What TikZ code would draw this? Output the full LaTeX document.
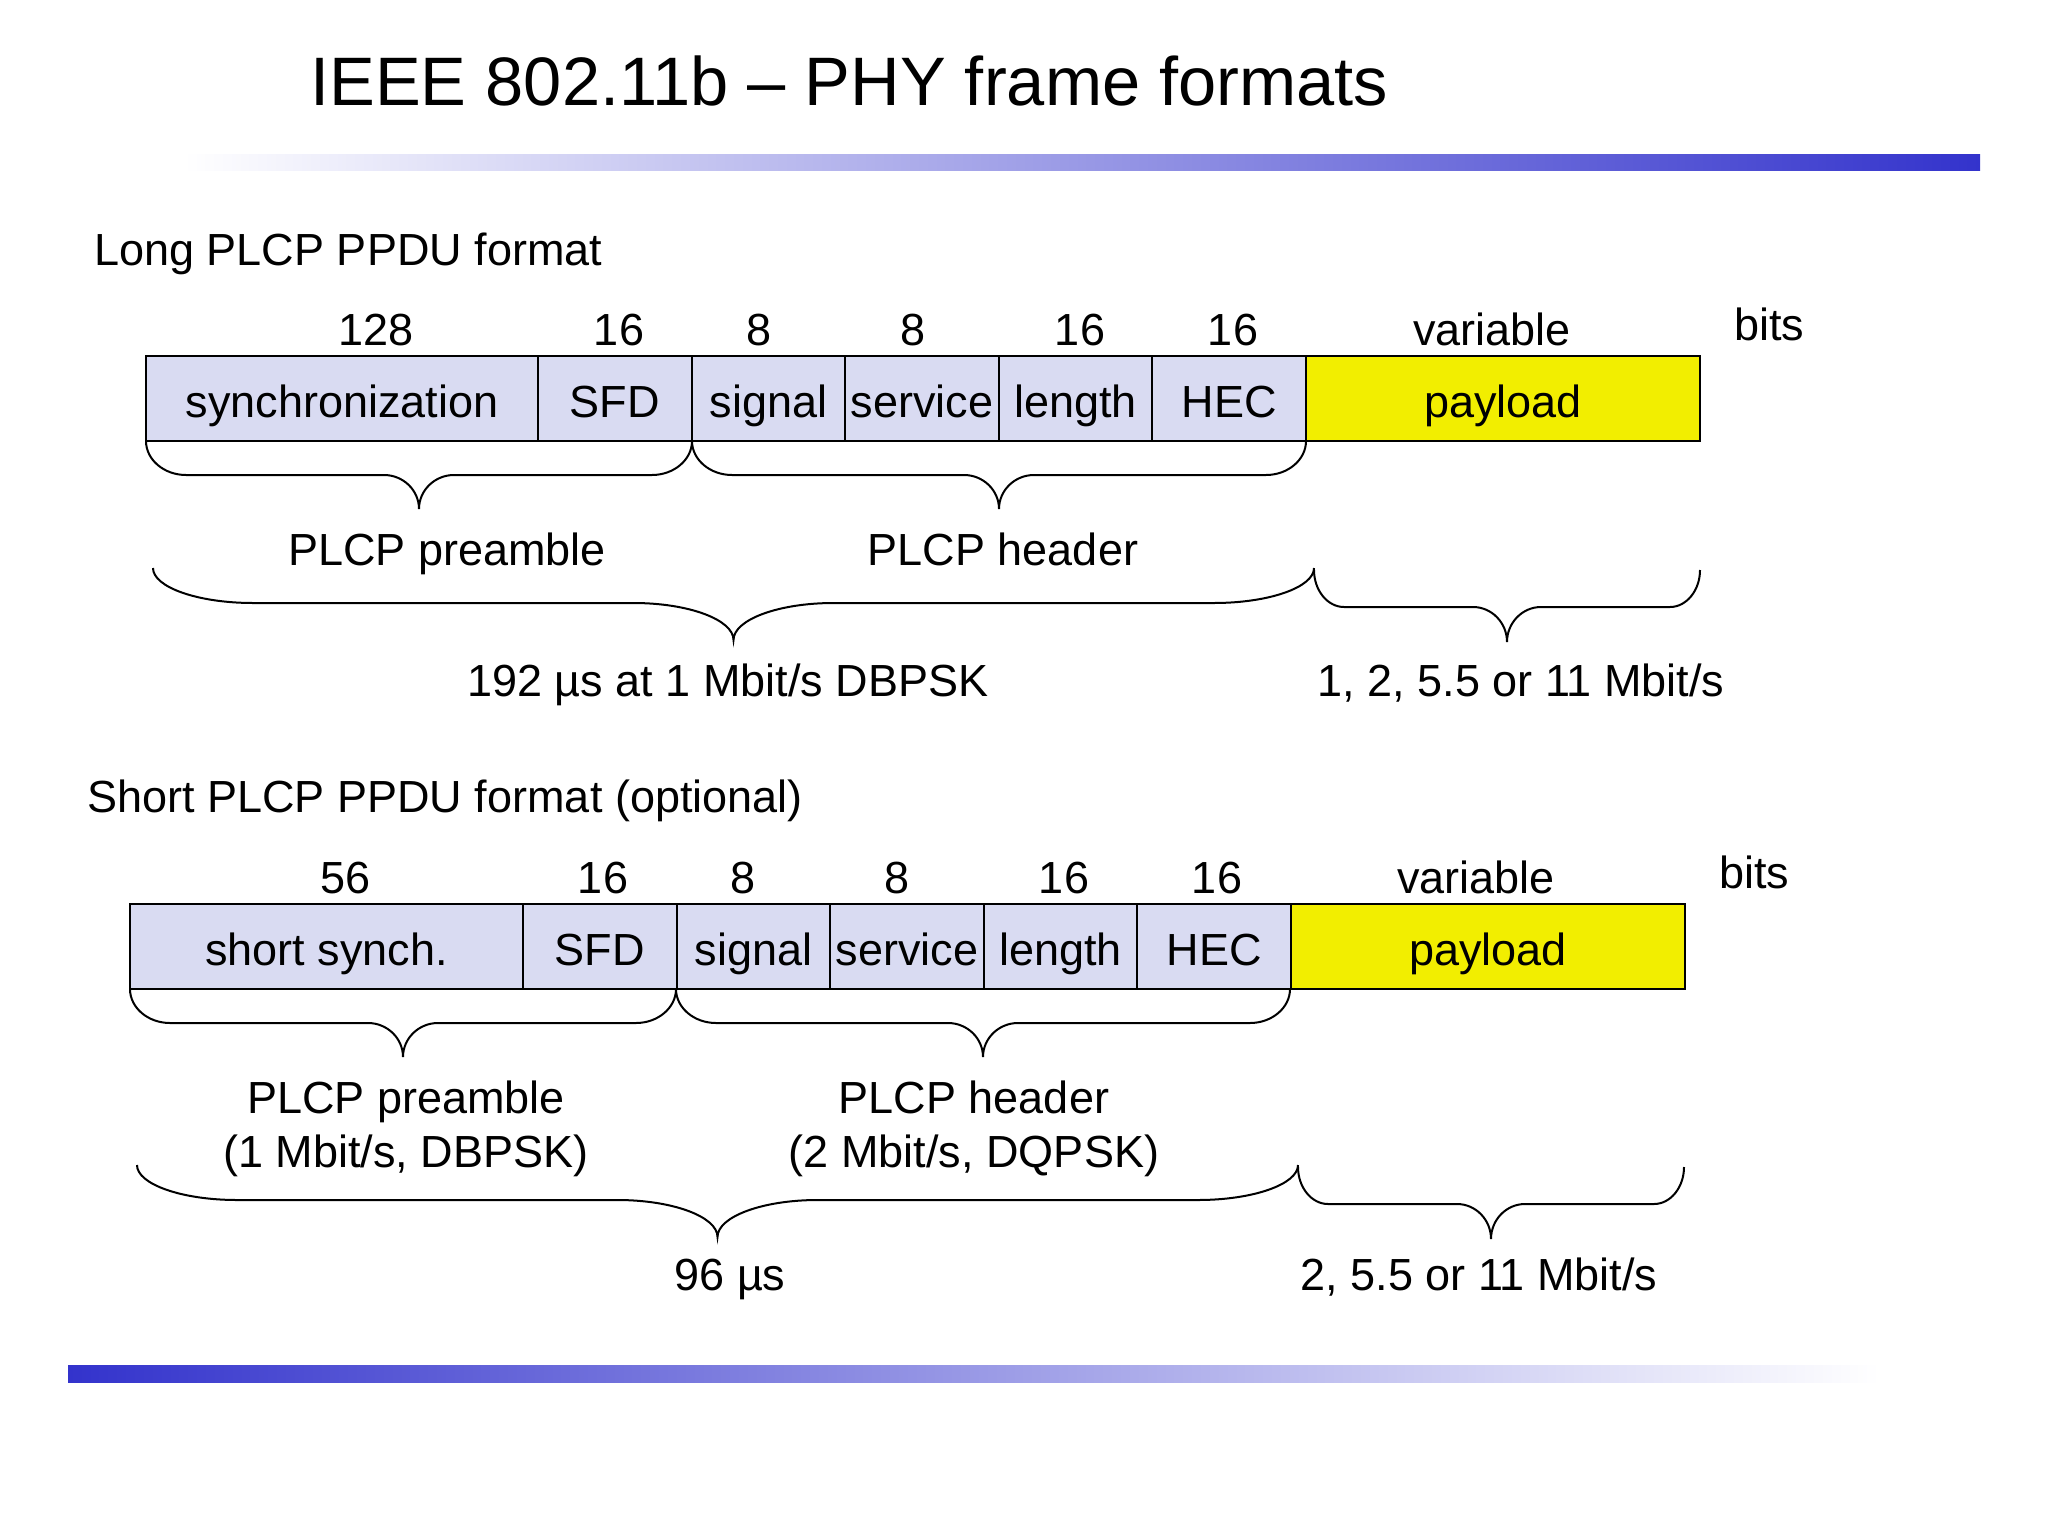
\documentclass[tikz,border=0pt]{standalone}
\usepackage{fontspec}
\setmainfont{Liberation Sans}
\usetikzlibrary{positioning}

\definecolor{fieldfill}{RGB}{217,219,242}
\definecolor{payloadfill}{RGB}{242,238,0}
\definecolor{barblue}{RGB}{51,51,204}

% curly brace: left x, right x, end y, flat y, tip y, end width, middle width
\newcommand{\ppdubrace}[7]{%
  \pgfmathsetmacro{\bracemid}{(#1+#2)/2}
  \draw[bracecurve] (#1,#3) .. controls (#1,{#3+0.55*(#4-#3)}) and ({#1+0.45*#6},#4) .. ({#1+#6},#4)
    -- ({\bracemid-#7},#4) .. controls ({\bracemid-0.45*#7},#4) and (\bracemid,{#5-0.55*(#5-#4)}) .. (\bracemid,#5)
    .. controls (\bracemid,{#5-0.55*(#5-#4)}) and ({\bracemid+0.45*#7},#4) .. ({\bracemid+#7},#4)
    -- ({#2-#6},#4) .. controls ({#2-0.45*#6},#4) and (#2,{#3+0.55*(#4-#3)}) .. (#2,#3);
}

\begin{document}
\begin{tikzpicture}[x=0.5pt,y=0.5pt,yscale=-1,xscale=1,
  txt/.style={font=\fontsize{22.5}{27}\selectfont,inner sep=0pt},
  field/.style={txt,draw=black,line width=1pt,fill=fieldfill,minimum height=42.5pt,
    minimum width=76.8pt,outer sep=0pt,text height=23.2pt,text depth=4.7pt},
  payloadfield/.style={field,fill=payloadfill,minimum width=197pt},
  bitcount/.style={txt,anchor=base},
  heading/.style={txt,anchor=base west},
  bracelabel/.style={txt,anchor=base,align=center},
  bracecurve/.style={draw=black,line width=1pt}]

\fill[white] (0,0) rectangle (2048,1536);
\useasboundingbox (0,0) rectangle (2048,1536);

%Title
\node[anchor=base west,inner sep=0pt,font=\fontsize{34.3}{40}\selectfont] (title) at (310,105) {IEEE 802.11b -- PHY frame formats};
\shade[left color=white,right color=barblue] (183,154) rectangle (1980,170);

%Long PLCP PPDU
\node[heading] (longhead) at (94,265) {Long PLCP PPDU format};
\node[bitcount] (lsyncbits) at (376,345) {128};
\node[bitcount] (lsfdbits) at (619,345) {16};
\node[bitcount] (lsigbits) at (759,345) {8};
\node[bitcount] (lservbits) at (913,345) {8};
\node[bitcount] (llenbits) at (1080,345) {16};
\node[bitcount] (lhecbits) at (1233,345) {16};
\node[bitcount] (lpaybits) at (1492,345) {variable};
\node[heading] (lbits) at (1734,340) {bits};

\node[field,anchor=west,minimum width=196pt] (lsync) at (146,398.5) {synchronization};
\node[field,right=0pt of lsync] (lsfd) {SFD};
\node[field,right=0pt of lsfd] (lsig) {signal};
\node[field,right=0pt of lsig] (lserv) {service};
\node[field,right=0pt of lserv] (llen) {length};
\node[field,right=0pt of llen] (lhec) {HEC};
\node[payloadfield,right=0pt of lhec] (lpay) {payload};

\ppdubrace{146}{692}{441}{475}{509}{40}{35}
\ppdubrace{692}{1306}{441}{475}{509}{40}{35}
\node[bracelabel] (lpre) at (447,565) {PLCP preamble};
\node[bracelabel] (lhdr) at (1003,565) {PLCP header};

\ppdubrace{153}{1314}{568}{603}{640}{100}{100}
\ppdubrace{1314}{1700}{570}{607}{642}{30}{34}
\node[bracelabel] (ltime) at (728,696) {192 µs at 1 Mbit/s DBPSK};
\node[bracelabel] (lrate) at (1521,696) {1, 2, 5.5 or 11 Mbit/s};

%Short PLCP PPDU
\node[heading] (shorthead) at (87,812) {Short PLCP PPDU format (optional)};
\node[bitcount] (ssyncbits) at (346,893) {56};
\node[bitcount] (ssfdbits) at (603,893) {16};
\node[bitcount] (ssigbits) at (743,893) {8};
\node[bitcount] (sservbits) at (897,893) {8};
\node[bitcount] (slenbits) at (1064,893) {16};
\node[bitcount] (shecbits) at (1217,893) {16};
\node[bitcount] (spaybits) at (1476,893) {variable};
\node[heading] (sbits) at (1719,888) {bits};

\node[field,anchor=west,minimum width=196.5pt] (ssync) at (130,946.5) {short synch.};
\node[field,right=0pt of ssync] (ssfd) {SFD};
\node[field,right=0pt of ssfd] (ssig) {signal};
\node[field,right=0pt of ssig] (sserv) {service};
\node[field,right=0pt of sserv] (slen) {length};
\node[field,right=0pt of slen] (shec) {HEC};
\node[payloadfield,right=0pt of shec] (spay) {payload};

\ppdubrace{130}{676}{989}{1023}{1057}{40}{35}
\ppdubrace{676}{1290}{989}{1023}{1057}{40}{35}
\node[bracelabel] (spre) at (406,1167) {PLCP preamble\\(1 Mbit/s, DBPSK)};
\node[bracelabel] (shdr) at (974,1167) {PLCP header\\(2 Mbit/s, DQPSK)};

\ppdubrace{137}{1298}{1165}{1200}{1237}{100}{100}
\ppdubrace{1298}{1684}{1167}{1204}{1239}{30}{34}
\node[bracelabel] (stime) at (730,1290) {96 µs};
\node[bracelabel] (srate) at (1479,1290) {2, 5.5 or 11 Mbit/s};

\shade[left color=barblue,right color=white] (68,1365) rectangle (1880,1382);
\end{tikzpicture}
\end{document}
